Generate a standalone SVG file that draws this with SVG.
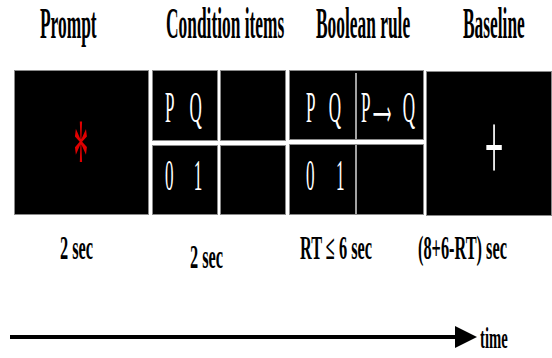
<svg xmlns="http://www.w3.org/2000/svg" width="552" height="358" viewBox="0 0 552 358">
<style>
.hd{font-family:"Liberation Serif","Times New Roman",serif;font-weight:bold;font-size:44px;fill:#000}
.lb{font-family:"Liberation Serif","Times New Roman",serif;font-weight:bold;font-size:34px;fill:#000}
.bx{fill:#000;stroke:#8a8a8a;stroke-width:1}
.st{font-family:"Liberation Serif","Times New Roman",serif;font-size:45px;fill:#fff}
.dv{stroke:#d8d8d8;stroke-width:1.5}
</style>
<defs>
<marker id="ah" markerUnits="userSpaceOnUse" markerWidth="24" markerHeight="24" refX="2" refY="11" orient="auto">
<polygon points="0,0 22,11 0,22" fill="#000"/>
</marker>
</defs>
<rect width="552" height="358" fill="#fff"/>

<g id="prompt">
<text class="hd" transform="translate(40,38) scale(0.395,1)">Prompt</text>
<rect class="bx" x="14.5" y="70.5" width="134" height="144"/>
<text transform="translate(81,194) scale(0.27,1)" text-anchor="middle" font-family="Liberation Serif, serif" font-size="110" fill="#e00000">*</text>
<text class="lb" transform="translate(60,259) scale(0.48,1)">2 sec</text>
</g>

<g id="condition">
<text class="hd" transform="translate(166,38) scale(0.395,1)">Condition items</text>
<rect class="bx" x="152.5" y="70.5" width="65" height="70"/>
<rect class="bx" x="220.5" y="70.5" width="65" height="70"/>
<rect class="bx" x="152.5" y="145.5" width="65" height="69"/>
<rect class="bx" x="220.5" y="145.5" width="65" height="69"/>
<text class="st" transform="translate(165,122) scale(0.38,1)" word-spacing="30">P Q</text>
<text class="st" transform="translate(165,190) scale(0.38,1)" word-spacing="42">0 1</text>
<text class="lb" transform="translate(190,268) scale(0.48,1)">2 sec</text>
</g>

<g id="boolean">
<text class="hd" transform="translate(316,38) scale(0.395,1)">Boolean rule</text>
<rect class="bx" x="289.5" y="70.5" width="134" height="69"/>
<rect class="bx" x="289.5" y="144.5" width="134" height="70"/>
<line class="dv" x1="356" y1="73" x2="356" y2="139"/>
<line class="dv" x1="356" y1="145" x2="356" y2="214"/>
<text class="st" transform="translate(306,122) scale(0.38,1)" word-spacing="25">P Q</text>
<text class="st" transform="translate(361,122) scale(0.38,1)">P<tspan font-family="DejaVu Sans, sans-serif" font-size="34" dx="6" dy="3">⟶</tspan><tspan dx="30" dy="-3">Q</tspan></text>
<text class="st" transform="translate(306,190) scale(0.38,1)" word-spacing="45">0 1</text>
<text class="lb" transform="translate(300,259) scale(0.48,1)">RT ≤ 6 sec</text>
</g>

<g id="baseline">
<text class="hd" transform="translate(463,38) scale(0.395,1)">Baseline</text>
<rect class="bx" x="426.5" y="71.5" width="125" height="144"/>
<text transform="translate(494,181) scale(0.33,1)" text-anchor="middle" font-family="Liberation Serif, serif" font-size="100" fill="#fff">+</text>
<text class="lb" transform="translate(418,259) scale(0.48,1)">(8+6-RT) sec</text>
</g>

<g id="connectors">
<line x1="10" y1="337" x2="457" y2="337" stroke="#000" stroke-width="4" marker-end="url(#ah)"/>
</g>
<g id="time-label">
<text class="lb" transform="translate(480,348) scale(0.49,1)" style="font-size:30px">time</text>
</g>
</svg>
